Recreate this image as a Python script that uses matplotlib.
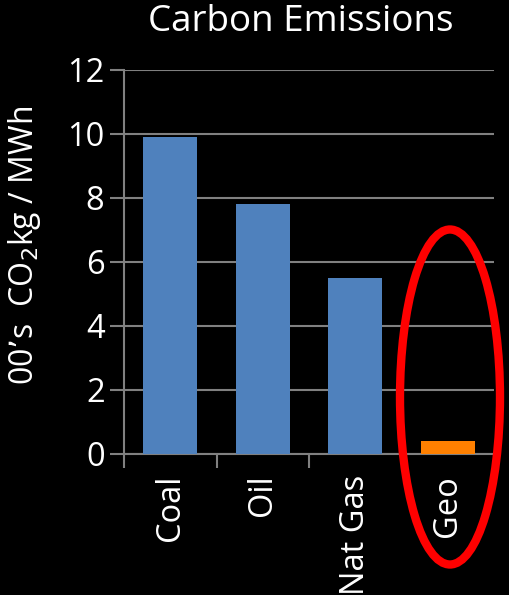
import matplotlib.pyplot as plt
from matplotlib.patches import Ellipse

fuels = ["Coal", "Oil", "Nat Gas", "Geo"]
emissions = [9.9, 7.8, 5.5, 0.4]
colors = ["#4f81bd", "#4f81bd", "#4f81bd", "#ff8000"]

plt.rcParams["font.family"] = ["Open Sans", "DejaVu Sans"]

W, H = 509, 595
fig = plt.figure(figsize=(W / 100, H / 100), dpi=100, facecolor="black")
ax = fig.add_axes([124 / W, 1 - 454 / H, 370 / W, 384 / H], facecolor="black")

x = range(len(fuels))
ax.bar(x, emissions, width=0.58, color=colors, zorder=3)

ax.set_xlim(-0.5, len(fuels) - 0.5)
ax.set_ylim(0, 12)
ax.set_yticks(range(0, 13, 2))
ax.tick_params(axis="y", colors="#808080", labelcolor="white", labelsize=23.5,
               length=10, width=1.5, pad=4)
ax.yaxis.grid(True, color="#808080", linewidth=1.5, zorder=0)

# category labels between boundary ticks
ax.set_xticks([i - 0.5 for i in range(len(fuels) + 1)])
ax.set_xticklabels([])
ax.set_xticks(list(x), minor=True)
ax.set_xticklabels(fuels, minor=True, rotation=90, color="white", fontsize=23.5)
ax.tick_params(axis="x", which="major", colors="#808080", length=10, width=1.5)
ax.tick_params(axis="x", which="minor", length=0, pad=15)

for side in ["top", "right"]:
    ax.spines[side].set_visible(False)
for side in ["left", "bottom"]:
    ax.spines[side].set_color("#808080")
    ax.spines[side].set_linewidth(1.5)

fig.text(301 / W, 1 - 22 / H, "Carbon Emissions", color="white", fontsize=26.5,
         ha="center", va="center")
fig.text(25 / W, 1 - 245 / H, "00’s  CO$_2$kg / MWh", color="white",
         fontsize=23, rotation=90, ha="center", va="center")

ring = Ellipse((4.50, 1.98), 1.00, 3.35, transform=fig.dpi_scale_trans,
               fill=False, edgecolor="#ff0000", linewidth=6, zorder=10)
fig.add_artist(ring)

fig.savefig("out.png", dpi=100, facecolor="black")
